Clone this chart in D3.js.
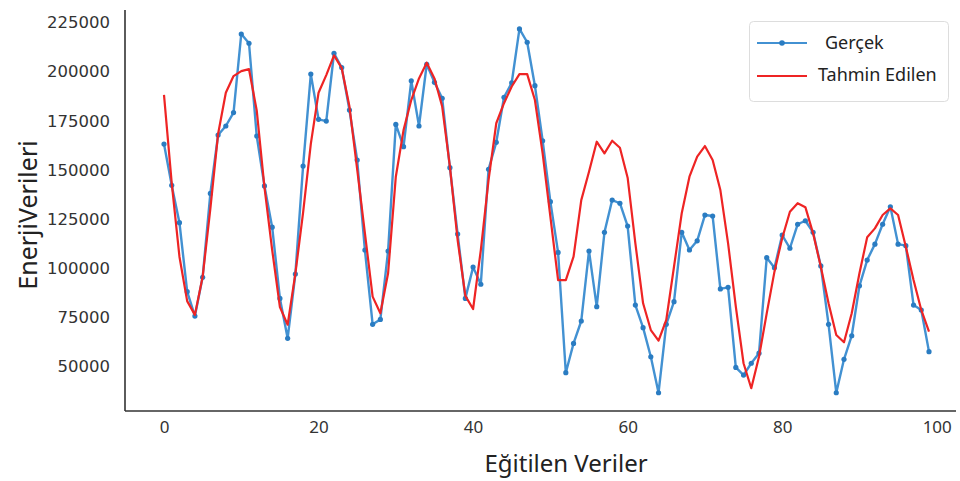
<!DOCTYPE html>
<html>
<head>
<meta charset="utf-8">
<script src="https://cdn.jsdelivr.net/npm/d3@7"></script>
<style>
  html, body { margin: 0; padding: 0; background: #fff; }
  svg { display: block; }
</style>
</head>
<body>
<svg id="chart" width="960" height="481"></svg>
<script>
const actual = [
  162900, 141900, 122900, 87800, 75400, 95100, 137800, 167500, 172100, 178900,
  218900, 214200, 167000, 141600, 120600, 84400, 64100, 96800, 151700, 198500,
  175500, 174600, 209100, 201800, 180200, 154800, 109000, 71200, 73700, 108500,
  172900, 161600, 195100, 172100, 203500, 194300, 186200, 150900, 117100, 84400,
  100300, 91600, 150100, 163800, 186700, 194100, 221500, 214700, 192600, 164600,
  133600, 107800, 46600, 61500, 72900, 108500, 80200, 118000, 134400, 132800,
  121200, 81000, 69500, 54700, 36400, 71200, 82700, 118000, 109000, 113700,
  126800, 126300, 89200, 90000, 49300, 45400, 51400, 56500, 105100, 100000,
  116600, 109900, 122100, 123900, 118000, 100900, 71200, 36400, 53400, 65400,
  90800, 103900, 112000, 122100, 131000, 112000, 111200, 81000, 78500, 57300
];
const predicted = [
  187900, 143000, 105600, 83000, 76000, 95400, 130000, 168000, 189000, 197500,
  200000, 201000, 180000, 141000, 109000, 80000, 71000, 97000, 128000, 163000,
  189000, 198000, 208000, 201500, 182000, 150000, 117600, 85300, 76800, 97200,
  146300, 170000, 185300, 196300, 204300, 196300, 182000, 151400, 114100, 85700,
  79000, 109000, 144600, 173500, 183700, 192200, 198500, 198500, 185300, 158200,
  126000, 93700, 93700, 105600, 134400, 148800, 164100, 158200, 164600, 161000,
  145800, 112400, 81900, 68300, 62900, 73400, 100500, 127700, 146300, 156500,
  161900, 154800, 139500, 112400, 80200, 51400, 38700, 54700, 76800, 98000,
  115000, 128500, 132800, 130800, 117500, 100500, 81900, 65800, 62100, 76800,
  97200, 115500, 120000, 126800, 130200, 126800, 110700, 93700, 78500, 67500
];
const xTicks = [0, 20, 40, 60, 80, 100];
const yTicks = [50000, 75000, 100000, 125000, 150000, 175000, 200000, 225000];
const seriesNames = ["Gerçek", "Tahmin Edilen"];
const xLabel = "Eğitilen Veriler";
const yLabel = "EnerjiVerileri";

const svg = d3.select("#chart");
const plotLeft = 125, plotRight = 956, plotTop = 10, plotBottom = 411;

const x = d3.scaleLinear().domain([0, 99]).range([164, 929]);
const y = d3.scaleLinear().domain([50000, 225000]).range([366, 22]);

// spines
svg.append("line").attr("x1", plotLeft).attr("x2", plotLeft).attr("y1", plotTop).attr("y2", plotBottom)
  .attr("stroke", "#333").attr("stroke-width", 1.6);
svg.append("line").attr("x1", plotLeft).attr("x2", plotRight).attr("y1", plotBottom).attr("y2", plotBottom)
  .attr("stroke", "#333").attr("stroke-width", 1.6);

// axes (labels only)
const yAxis = d3.axisLeft(y).tickValues(yTicks).tickSize(0).tickPadding(0).tickFormat(d3.format("d"));
const gy = svg.append("g").attr("transform", `translate(110,0)`).call(yAxis);
gy.select(".domain").remove();
gy.selectAll("text").attr("font-family", "DejaVu Sans, sans-serif").attr("font-size", 16.5)
  .attr("fill", "#333").attr("dy", "0.35em");

const xAxis = d3.axisBottom(x).tickValues(xTicks).tickSize(0).tickPadding(0).tickFormat(d3.format("d"));
const gx = svg.append("g").attr("transform", `translate(0,421)`).call(xAxis);
gx.select(".domain").remove();
gx.selectAll("text").attr("font-family", "Noto Sans, sans-serif").attr("font-size", 17)
  .attr("fill", "#333").attr("dy", "0.71em");

// axis titles
svg.append("text").attr("x", 566).attr("y", 472).attr("text-anchor", "middle")
  .attr("font-family", "Noto Sans, sans-serif").attr("font-size", 24).attr("fill", "#222")
  .text(xLabel);
svg.append("text").attr("transform", "translate(37,215) rotate(-90)").attr("text-anchor", "middle")
  .attr("font-family", "Noto Sans, sans-serif").attr("font-size", 25).attr("fill", "#222")
  .text(yLabel);

const line = d3.line().x((d, i) => x(i)).y(d => y(d));

const blue = "#4291d2";
const red = "#ee2424";

svg.append("path").datum(actual).attr("d", line).attr("fill", "none")
  .attr("stroke", blue).attr("stroke-width", 2.4).attr("stroke-linejoin", "round");
svg.append("g").selectAll("circle").data(actual).join("circle")
  .attr("cx", (d, i) => x(i)).attr("cy", d => y(d)).attr("r", 2.6).attr("fill", "#2a7cc2");

svg.append("path").datum(predicted).attr("d", line).attr("fill", "none")
  .attr("stroke", red).attr("stroke-width", 2.2).attr("stroke-linejoin", "round");

// legend
const lg = svg.append("g");
lg.append("rect").attr("x", 749.5).attr("y", 21.5).attr("width", 199).attr("height", 80)
  .attr("rx", 4).attr("fill", "#fff").attr("stroke", "#ddd").attr("stroke-width", 1);
lg.append("line").attr("x1", 757).attr("x2", 807).attr("y1", 43).attr("y2", 43)
  .attr("stroke", blue).attr("stroke-width", 2.2);
lg.append("circle").attr("cx", 782).attr("cy", 43).attr("r", 2.8).attr("fill", "#2a7cc2");
lg.append("text").attr("x", 825).attr("y", 43).attr("dy", "0.35em")
  .attr("font-family", "Noto Sans, sans-serif").attr("font-size", 18).attr("fill", "#222")
  .text(seriesNames[0]);
lg.append("line").attr("x1", 757).attr("x2", 807).attr("y1", 76).attr("y2", 76)
  .attr("stroke", red).attr("stroke-width", 2.2);
lg.append("text").attr("x", 818).attr("y", 75).attr("dy", "0.35em")
  .attr("font-family", "Noto Sans, sans-serif").attr("font-size", 18).attr("fill", "#222")
  .text(seriesNames[1]);
</script>
</body>
</html>
